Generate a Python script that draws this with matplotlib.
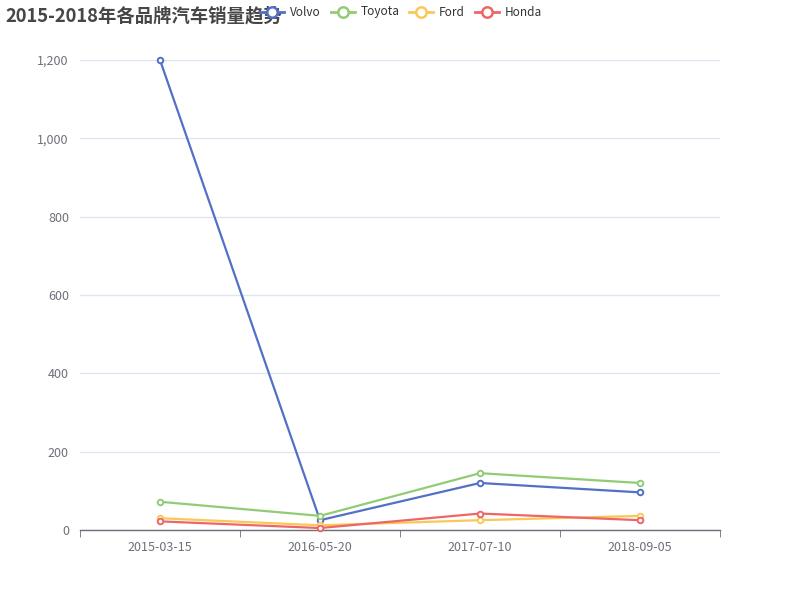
import matplotlib
matplotlib.use("Agg")
import matplotlib.pyplot as plt
from matplotlib.lines import Line2D
from matplotlib.ticker import FuncFormatter, FixedLocator

plt.rcParams['font.family'] = ['Noto Sans CJK SC', 'DejaVu Sans']

categories = ["2015-03-15", "2016-05-20", "2017-07-10", "2018-09-05"]
series_names = ["Volvo", "Toyota", "Ford", "Honda"]
volvo = [1200, 25, 120, 96]
toyota = [72, 36, 145, 120]
ford = [30, 12, 25, 36]
honda = [22, 5, 42, 25]
series_values = [volvo, toyota, ford, honda]
colors = ["#5470c6", "#91cc75", "#fac858", "#ee6666"]
title = "2015-2018年各品牌汽车销量趋势"

fig = plt.figure(figsize=(8, 6), dpi=100)
ax = fig.add_axes([0.1, 0.1167, 0.8, 0.7833])

x = list(range(len(categories)))
for name, vals, c in zip(series_names, series_values, colors):
    ax.plot(x, vals, color=c, lw=1.6, marker='o', ms=4, mfc='white',
            mec=c, mew=1.4, zorder=3, label=name, clip_on=False)

ax.set_xlim(-0.5, len(categories) - 0.5)
ax.set_ylim(0, 1200)
ax.set_yticks(range(0, 1201, 200))
ax.yaxis.set_major_formatter(FuncFormatter(lambda v, p: f"{int(v):,}"))
ax.set_xticks(x)
ax.set_xticklabels(categories)
ax.xaxis.set_minor_locator(FixedLocator([i - 0.5 for i in range(len(categories) + 1)]))
ax.tick_params(axis='x', which='major', length=0, pad=8, labelsize=9, labelcolor='#6E7079')
ax.tick_params(axis='x', which='minor', length=5, color='#6E7079', direction='out')
ax.tick_params(axis='y', length=0, pad=8, labelsize=9, labelcolor='#6E7079')
ax.grid(axis='y', color='#E0E6F1', lw=1)
ax.set_axisbelow(True)
for s in ['top', 'right', 'left']:
    ax.spines[s].set_visible(False)
ax.spines['bottom'].set_color('#6E7079')
ax.spines['bottom'].set_linewidth(1)

fig.text(5 / 800, 1 - 16 / 600, title, fontsize=13.2, fontweight='bold',
         color='#464646', va='center', ha='left', zorder=1)

# legend
leg_x = [272, 343, 421, 487]
ly = 1 - 12 / 600
for name, c, cx in zip(series_names, colors, leg_x):
    fig.add_artist(Line2D([(cx - 12) / 800, (cx + 12) / 800], [ly, ly], color=c, lw=2,
                          transform=fig.transFigure, zorder=5))
    fig.add_artist(Line2D([cx / 800], [ly], color=c, marker='o', ms=7.5, mfc='white',
                          mec=c, mew=1.8, transform=fig.transFigure, zorder=6))
    fig.text((cx + 18) / 800, ly, name, fontsize=8.5, color='#333333', va='center',
             ha='left', zorder=6)

fig.savefig("out.png", dpi=100)
